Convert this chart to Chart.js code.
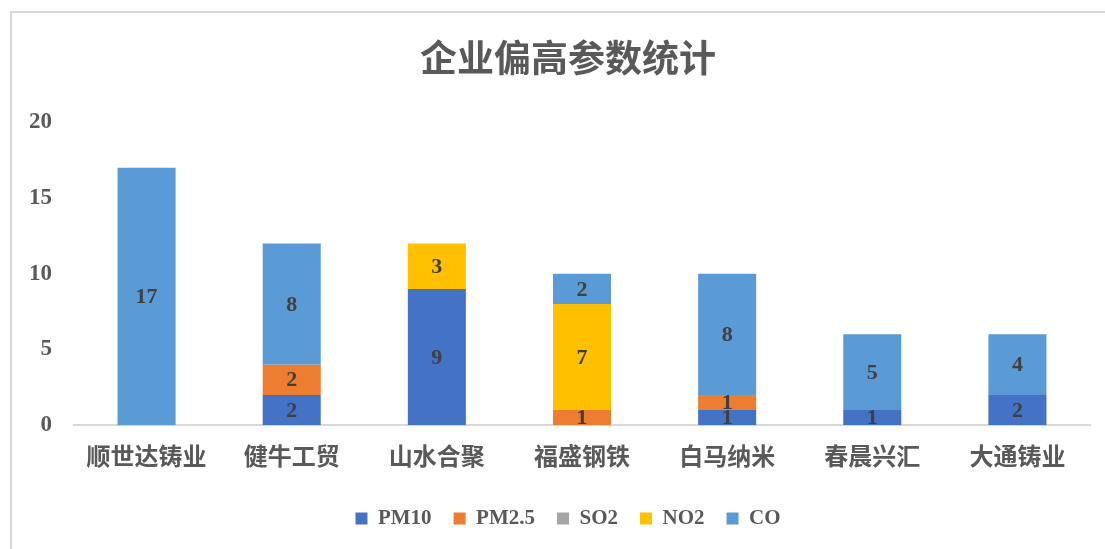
<!DOCTYPE html>
<html><head><meta charset="utf-8">
<script src="https://cdn.jsdelivr.net/npm/chart.js@4/dist/chart.umd.min.js"></script>
<style>
html,body{margin:0;padding:0;background:#fff;}
#wrap{position:relative;width:1105px;height:549px;overflow:hidden;}
#frame{position:absolute;left:10px;top:11px;width:1120px;height:600px;border:2px solid #d9d9d9;pointer-events:none;box-sizing:border-box;}
canvas{position:absolute;left:0;top:0;}
</style></head>
<body><div id="wrap"><canvas id="c" width="1125" height="549"></canvas><div id="frame"></div></div>
<script>
const categories = ['顺世达铸业','健牛工贸','山水合聚','福盛钢铁','白马纳米','春晨兴汇','大通铸业'];
const PM10  = [0, 2, 9, 0, 1, 1, 2];
const PM25  = [0, 2, 0, 1, 1, 0, 0];
const SO2   = [0, 0, 0, 0, 0, 0, 0];
const NO2   = [0, 0, 3, 7, 0, 0, 0];
const CO    = [17, 8, 0, 2, 8, 5, 4];
const seriesNames = ['PM10','PM2.5','SO2','NO2','CO'];
const yTicks = [0, 5, 10, 15, 20];

const serif = '"Liberation Serif","Times New Roman","Noto Sans CJK SC",serif';
const grey = '#595959';

const labelPlugin = {
  id: 'barLabels',
  afterDatasetsDraw(chart) {
    const ctx = chart.ctx;
    ctx.save();
    ctx.font = 'bold 22px ' + serif;
    ctx.fillStyle = '#404040';
    ctx.textAlign = 'center';
    ctx.textBaseline = 'middle';
    chart.data.datasets.forEach((ds, i) => {
      const meta = chart.getDatasetMeta(i);
      meta.data.forEach((el, j) => {
        const v = ds.data[j];
        if (!v) return;
        ctx.fillText(String(v), el.x, (el.y + el.base) / 2 + 1);
      });
    });
    ctx.restore();
  }
};

new Chart(document.getElementById('c'), {
  type: 'bar',
  data: {
    labels: categories,
    datasets: [
      {label: seriesNames[0], data: PM10, backgroundColor: '#4472C4'},
      {label: seriesNames[1], data: PM25, backgroundColor: '#ED7D31'},
      {label: seriesNames[2], data: SO2,  backgroundColor: '#A5A5A5'},
      {label: seriesNames[3], data: NO2,  backgroundColor: '#FFC000'},
      {label: seriesNames[4], data: CO,   backgroundColor: '#5B9BD5'}
    ]
  },
  options: {
    responsive: false,
    animation: false,
    layout: {padding: {left: 11, right: 0, top: 36, bottom: 10}},
    datasets: {bar: {categoryPercentage: 1, barPercentage: 0.4}},
    plugins: {
      title: {
        display: true,
        text: '企业偏高参数统计',
        color: grey,
        font: {family: '"Noto Sans CJK SC",' + serif, size: 37, weight: 'bold'},
        padding: {top: 0, bottom: 42}
      },
      legend: {
        position: 'bottom',
        labels: {
          color: grey,
          boxWidth: 12, boxHeight: 12,
          padding: 22,
          font: {family: serif, size: 21, weight: 'bold'}
        }
      },
      tooltip: {enabled: false}
    },
    scales: {
      x: {
        stacked: true,
        grid: {display: false, drawTicks: false},
        border: {display: true, color: '#d9d9d9', width: 2},
        ticks: {color: grey, padding: 16, font: {family: '"Noto Sans CJK SC",' + serif, size: 24, weight: 'bold'}}
      },
      y: {
        stacked: true,
        min: 0, max: 20,
        afterFit(s) { s.width = 63; },
        afterBuildTicks(s) { s.ticks = yTicks.map(v => ({value: v})); },
        grid: {display: false, drawTicks: false},
        border: {display: false},
        ticks: {color: grey, padding: 22, font: {family: serif, size: 23, weight: 'bold'}}
      },
      yR: {
        position: 'right',
        min: 0, max: 20,
        afterFit(s) { s.width = 35; },
        grid: {display: false, drawTicks: false},
        border: {display: false},
        ticks: {display: false}
      }
    }
  },
  plugins: [labelPlugin]
});
</script></body></html>
